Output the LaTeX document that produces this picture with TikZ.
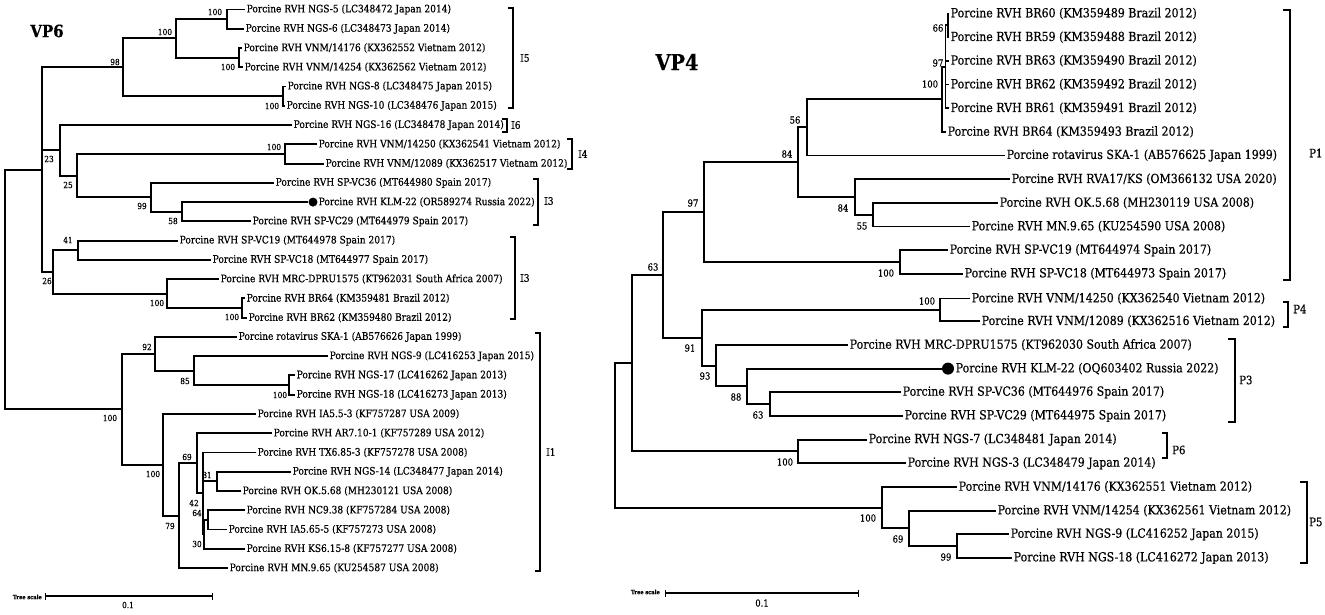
\documentclass[tikz,border=0pt]{standalone}
\usepackage{fontspec}
\setmainfont{DejaVu Serif}[FakeStretch=0.88, FakeBold=0.5]
\usetikzlibrary{arrows.meta}

\tikzset{
  leaf/.style={anchor=west, inner xsep=1.5pt, inner ysep=0pt, font=\fontsize{10.3}{11}\selectfont},
  bigleaf/.style={leaf, font=\fontsize{12.5}{13}\selectfont},
  boot/.style={inner sep=0pt, font=\fontsize{8.4}{9}\selectfont},
  bigboot/.style={inner sep=0pt, font=\fontsize{9.6}{10}\selectfont},
  branch/.style={line width=1.9pt},
  bracket/.style={line width=1.4pt},
  clade/.style={anchor=west, inner sep=0pt, font=\fontsize{10.3}{11}\selectfont},
  bigclade/.style={anchor=west, inner sep=0pt, font=\fontsize{11.5}{12}\selectfont},
  kdot/.style={circle, fill, inner sep=0pt, minimum size=#1},
  title/.style={inner sep=0pt, font=\bfseries\fontsize{#1}{#1}\selectfont},
  scalebar/.style={line width=1.4pt, {Bar[width=7pt]}-{Bar[width=7pt]}},
  scaletext/.style={anchor=east, inner sep=0pt, font=\bfseries\fontsize{5.8}{6}\selectfont}
}

\begin{document}
\begin{tikzpicture}[x=1pt, y=-1pt]
\useasboundingbox (0,0) rectangle (1325,614);

% ---------------- VP6 ----------------
\node [title=17] (vp6) at (47,31) {VP6};

\node [leaf] (l0) at (245,9.5) {Porcine RVH NGS-5 (LC348472 Japan 2014)};
\node [leaf] (l1) at (244,28.8) {Porcine RVH NGS-6 (LC348473 Japan 2014)};
\node [leaf] (l2) at (242,48.0) {Porcine RVH VNM/14176 (KX362552 Vietnam 2012)};
\node [leaf] (l3) at (243,67.3) {Porcine RVH VNM/14254 (KX362562 Vietnam 2012)};
\node [leaf] (l4) at (286,86.5) {Porcine RVH NGS-8 (LC348475 Japan 2015)};
\node [leaf] (l5) at (285,105.8) {Porcine RVH NGS-10 (LC348476 Japan 2015)};
\node [leaf] (l6) at (292,125.1) {Porcine RVH NGS-16 (LC348478 Japan 2014)};
\node [leaf] (l7) at (317,144.3) {Porcine RVH VNM/14250 (KX362541 Vietnam 2012)};
\node [leaf] (l8) at (324,163.6) {Porcine RVH VNM/12089 (KX362517 Vietnam 2012)};
\node [leaf] (l9) at (274,182.8) {Porcine RVH SP-VC36 (MT644980 Spain 2017)};
\node [kdot=9pt] (k6) at (313,202.1) {};
\node [leaf] (l10) at (317,202.1) {Porcine RVH KLM-22 (OR589274 Russia 2022)};
\node [leaf] (l11) at (251,221.4) {Porcine RVH SP-VC29 (MT644979 Spain 2017)};
\node [leaf] (l12) at (178,240.6) {Porcine RVH SP-VC19 (MT644978 Spain 2017)};
\node [leaf] (l13) at (211,259.9) {Porcine RVH SP-VC18 (MT644977 Spain 2017)};
\node [leaf] (l14) at (219,279.1) {Porcine RVH MRC-DPRU1575 (KT962031 South Africa 2007)};
\node [leaf] (l15) at (245,298.4) {Porcine RVH BR64 (KM359481 Brazil 2012)};
\node [leaf] (l16) at (247,317.7) {Porcine RVH BR62 (KM359480 Brazil 2012)};
\node [leaf] (l17) at (237,336.9) {Porcine rotavirus SKA-1 (AB576626 Japan 1999)};
\node [leaf] (l18) at (328,356.2) {Porcine RVH NGS-9 (LC416253 Japan 2015)};
\node [leaf] (l19) at (295,375.4) {Porcine RVH NGS-17 (LC416262 Japan 2013)};
\node [leaf] (l20) at (295,394.7) {Porcine RVH NGS-18 (LC416273 Japan 2013)};
\node [leaf] (l21) at (256,414.0) {Porcine RVH IA5.5-3 (KF757287 USA 2009)};
\node [leaf] (l22) at (272,433.2) {Porcine RVH AR7.10-1 (KF757289 USA 2012)};
\node [leaf] (l23) at (256,452.5) {Porcine RVH TX6.85-3 (KF757278 USA 2008)};
\node [leaf] (l24) at (291,471.7) {Porcine RVH NGS-14 (LC348477 Japan 2014)};
\node [leaf] (l25) at (241,491.0) {Porcine RVH OK.5.68 (MH230121 USA 2008)};
\node [leaf] (l26) at (245,510.3) {Porcine RVH NC9.38 (KF757284 USA 2008)};
\node [leaf] (l27) at (227,529.5) {Porcine RVH IA5.65-5 (KF757273 USA 2008)};
\node [leaf] (l28) at (245,548.8) {Porcine RVH KS6.15-8 (KF757277 USA 2008)};
\node [leaf] (l29) at (228,568.0) {Porcine RVH MN.9.65 (KU254587 USA 2008)};

% inner nodes, y = middle of the children
\coordinate (s100b) at (227,19.2);
\coordinate (s100d) at (239,57.6);
\coordinate (s100a) at (176,38.4);
\coordinate (s100c) at (283,96.2);
\coordinate (s98) at (123,67.3);
\coordinate (s100e) at (285,154.0);
\coordinate (s58) at (182,211.7);
\coordinate (s99) at (151,197.3);
\coordinate (s25) at (77,175.6);
\coordinate (s23) at (60,150.4);
\coordinate (s41) at (78,250.2);
\coordinate (s100f) at (242,308.0);
\coordinate (s100g) at (167,293.6);
\coordinate (s26) at (53,271.9);
\coordinate (sa) at (42,169.6);
\coordinate (s100h) at (289,385.0);
\coordinate (s85) at (194,370.6);
\coordinate (s92) at (155,353.8);
\coordinate (s81) at (217,481.4);
\coordinate (s64) at (208,519.9);
\coordinate (s30) at (204,534.3);
\coordinate (s42) at (203,493.4);
\coordinate (s69) at (197,463.3);
\coordinate (s79) at (179,515.7);
\coordinate (s100i) at (163,464.8);
\coordinate (s100j) at (122,409.3);
\coordinate (sroot) at (5,289.5);

\draw [branch]
  (s100b) |- (l0) (s100b) |- (l1)
  (s100d) |- (l2) (s100d) |- (l3)
  (s100a) |- (s100b) (s100a) |- (s100d)
  (s100c) |- (l4) (s100c) |- (l5)
  (s98) |- (s100a) (s98) |- (s100c)
  (s100e) |- (l7) (s100e) |- (l8)
  (s58) |- (k6) (s58) |- (l11)
  (s99) |- (l9) (s99) |- (s58)
  (s25) |- (s100e) (s25) |- (s99)
  (s23) |- (l6) (s23) |- (s25)
  (s41) |- (l12) (s41) |- (l13)
  (s100f) |- (l15) (s100f) |- (l16)
  (s100g) |- (l14) (s100g) |- (s100f)
  (s26) |- (s41) (s26) |- (s100g)
  (sa) |- (s98) (sa) |- (s23) (sa) |- (s26)
  (s100h) |- (l19) (s100h) |- (l20)
  (s85) |- (l18) (s85) |- (s100h)
  (s92) |- (l17) (s92) |- (s85)
  (s81) |- (l24) (s81) |- (l25)
  (s64) |- (l26) (s64) |- (l27)
  (s30) |- (s64) (s30) |- (l28)
  (s42) |- (l23) (s42) |- (s81) (s42) |- (s30)
  (s69) |- (l22) (s69) |- (s42)
  (s79) |- (s69) (s79) |- (l29)
  (s100i) |- (l21) (s100i) |- (s79)
  (s100j) |- (s92) (s100j) |- (s100i)
  (sroot) |- (sa) (sroot) |- (s100j);

% bootstrap values
\node [boot] (b1) at (215,12) {100};
\node [boot] (b2) at (165,32) {100};
\node [boot] (b3) at (115,62) {98};
\node [boot] (b4) at (228,67) {100};
\node [boot] (b5) at (272,106) {100};
\node [boot] (b6) at (49,159) {23};
\node [boot] (b7) at (274,147) {100};
\node [boot] (b8) at (68,185) {25};
\node [boot] (b9) at (142,206) {99};
\node [boot] (b10) at (173,221) {58};
\node [boot] (b11) at (68,240) {41};
\node [boot] (b12) at (47,281) {26};
\node [boot] (b13) at (157,303) {100};
\node [boot] (b14) at (232,317) {100};
\node [boot] (b15) at (147,347) {92};
\node [boot] (b16) at (185,381) {85};
\node [boot] (b17) at (280,395) {100};
\node [boot] (b18) at (110,418) {100};
\node [boot] (b19) at (187,457) {69};
\node [boot] (b20) at (153,474) {100};
\node [boot] (b21) at (207,475) {81};
\node [boot] (b22) at (194,503) {42};
\node [boot] (b23) at (197,513) {64};
\node [boot] (b24) at (170,526) {79};
\node [boot] (b25) at (197,544) {30};

% genotypes
\draw [bracket] (508,8) -| (513,108) -- (508,108);
\node [clade] (i5) at (520,58) {I5};
\draw [bracket] (502,119) -| (507,132) -- (502,132);
\node [clade] (i6) at (511,125) {I6};
\draw [bracket] (567,139) -| (572,169) -- (567,169);
\node [clade] (i4) at (578,154) {I4};
\draw [bracket] (533,179) -| (538,225) -- (533,225);
\node [clade] (i3a) at (544,201) {I3};
\draw [bracket] (510,237) -| (515,319) -- (510,319);
\node [clade] (i3b) at (520,278) {I3};
\draw [bracket] (535,333) -| (540,571) -- (535,571);
\node [clade] (i1) at (546,452) {I1};

% scale
\node [scaletext] (ts6) at (42,597) {Tree scale};
\coordinate (sb6a) at (45,596);
\coordinate (sb6b) at (213,596);
\draw [scalebar] (sb6a) -- (sb6b);
\node [boot] (u6) at (128,605) {0.1};

% ---------------- VP4 ----------------
\node [title=22] (vp4) at (677,62) {VP4};

\node [bigleaf] (r0) at (949,13.5) {Porcine RVH BR60 (KM359489 Brazil 2012)};
\node [bigleaf] (r1) at (949,37.2) {Porcine RVH BR59 (KM359488 Brazil 2012)};
\node [bigleaf] (r2) at (949,60.8) {Porcine RVH BR63 (KM359490 Brazil 2012)};
\node [bigleaf] (r3) at (949,84.5) {Porcine RVH BR62 (KM359492 Brazil 2012)};
\node [bigleaf] (r4) at (949,108.2) {Porcine RVH BR61 (KM359491 Brazil 2012)};
\node [bigleaf] (r5) at (946,131.9) {Porcine RVH BR64 (KM359493 Brazil 2012)};
\node [bigleaf] (r6) at (1005,155.5) {Porcine rotavirus SKA-1 (AB576625 Japan 1999)};
\node [bigleaf] (r7) at (1010,179.2) {Porcine RVH RVA17/KS (OM366132 USA 2020)};
\node [bigleaf] (r8) at (998,202.9) {Porcine RVH OK.5.68 (MH230119 USA 2008)};
\node [bigleaf] (r9) at (970,226.5) {Porcine RVH MN.9.65 (KU254590 USA 2008)};
\node [bigleaf] (r10) at (948,250.2) {Porcine RVH SP-VC19 (MT644974 Spain 2017)};
\node [bigleaf] (r11) at (963,273.9) {Porcine RVH SP-VC18 (MT644973 Spain 2017)};
\node [bigleaf] (r12) at (970,298.5) {Porcine RVH VNM/14250 (KX362540 Vietnam 2012)};
\node [bigleaf] (r13) at (980,321.2) {Porcine RVH VNM/12089 (KX362516 Vietnam 2012)};
\node [bigleaf] (r14) at (848,344.9) {Porcine RVH MRC-DPRU1575 (KT962030 South Africa 2007)};
\node [kdot=12pt] (k4) at (948,368.6) {};
\node [bigleaf] (r15) at (954,368.6) {Porcine RVH KLM-22 (OQ603402 Russia 2022)};
\node [bigleaf] (r16) at (901,392.2) {Porcine RVH SP-VC36 (MT644976 Spain 2017)};
\node [bigleaf] (r17) at (903,415.9) {Porcine RVH SP-VC29 (MT644975 Spain 2017)};
\node [bigleaf] (r18) at (867,439.6) {Porcine RVH NGS-7 (LC348481 Japan 2014)};
\node [bigleaf] (r19) at (906,463.2) {Porcine RVH NGS-3 (LC348479 Japan 2014)};
\node [bigleaf] (r20) at (957,486.9) {Porcine RVH VNM/14176 (KX362551 Vietnam 2012)};
\node [bigleaf] (r21) at (996,510.6) {Porcine RVH VNM/14254 (KX362561 Vietnam 2012)};
\node [bigleaf] (r22) at (1009,534.2) {Porcine RVH NGS-9 (LC416252 Japan 2015)};
\node [bigleaf] (r23) at (1012,557.9) {Porcine RVH NGS-18 (LC416272 Japan 2013)};

\coordinate (t66) at (948,25.4);
\coordinate (t97a) at (945.5,66.8);
\coordinate (t100a) at (942,99.4);
\coordinate (t56) at (807,127.4);
\coordinate (t55) at (873,214.7);
\coordinate (t84b) at (855,197.0);
\coordinate (t84a) at (798,162.2);
\coordinate (t100b) at (900,262.0);
\coordinate (t97) at (704,212.1);
\coordinate (t100c) at (940,309.9);
\coordinate (t63b) at (770,404.0);
\coordinate (t88) at (747,386.3);
\coordinate (t93) at (716,365.6);
\coordinate (t91) at (702,337.7);
\coordinate (t63) at (663,274.9);
\coordinate (t100d) at (798,451.4);
\coordinate (ta) at (632,363.1);
\coordinate (t99) at (957,546.0);
\coordinate (t69) at (909,528.3);
\coordinate (t100e) at (882,507.6);
\coordinate (troot) at (615,435.4);

\draw [branch]
  (t66) |- (r0) (t66) |- (r1)
  (t97a) |- (t66) (t97a) |- (r2) (t97a) |- (r3) (t97a) |- (r4)
  (t100a) |- (t97a) (t100a) |- (r5)
  (t56) |- (t100a) (t56) |- (r6)
  (t55) |- (r8) (t55) |- (r9)
  (t84b) |- (r7) (t84b) |- (t55)
  (t84a) |- (t56) (t84a) |- (t84b)
  (t100b) |- (r10) (t100b) |- (r11)
  (t97) |- (t84a) (t97) |- (t100b)
  (t100c) |- (r12) (t100c) |- (r13)
  (t63b) |- (r16) (t63b) |- (r17)
  (t88) |- (k4) (t88) |- (t63b)
  (t93) |- (r14) (t93) |- (t88)
  (t91) |- (t100c) (t91) |- (t93)
  (t63) |- (t97) (t63) |- (t91)
  (t100d) |- (r18) (t100d) |- (r19)
  (ta) |- (t63) (ta) |- (t100d)
  (t99) |- (r22) (t99) |- (r23)
  (t69) |- (r21) (t69) |- (t99)
  (t100e) |- (r20) (t100e) |- (t69)
  (troot) |- (ta) (troot) |- (t100e);

\node [bigboot] (c1) at (938,28) {66};
\node [bigboot] (c2) at (938,63) {97};
\node [bigboot] (c3) at (930,84) {100};
\node [bigboot] (c4) at (795,120) {56};
\node [bigboot] (c5) at (787,154) {84};
\node [bigboot] (c6) at (843,208) {84};
\node [bigboot] (c7) at (862,226) {55};
\node [bigboot] (c8) at (693,203) {97};
\node [bigboot] (c9) at (886,273) {100};
\node [bigboot] (c10) at (653,267) {63};
\node [bigboot] (c11) at (927,301) {100};
\node [bigboot] (c12) at (690,348) {91};
\node [bigboot] (c13) at (705,376) {93};
\node [bigboot] (c14) at (736,397) {88};
\node [bigboot] (c15) at (758,415) {63};
\node [bigboot] (c16) at (785,462) {100};
\node [bigboot] (c17) at (868,518) {100};
\node [bigboot] (c18) at (898,539) {69};
\node [bigboot] (c19) at (946,557) {99};

\draw [bracket] (1283,10) -| (1290,280) -- (1283,280);
\node [bigclade] (p1) at (1309,153) {P1};
\draw [bracket] (1283,302) -| (1288,327) -- (1283,327);
\node [bigclade] (p4) at (1293,309) {P4};
\draw [bracket] (1228,339) -| (1235,422) -- (1228,422);
\node [bigclade] (p3) at (1239,380) {P3};
\draw [bracket] (1162,433) -| (1167,458) -- (1162,458);
\node [bigclade] (p6) at (1172,450) {P6};
\draw [bracket] (1300,482) -| (1307,563) -- (1300,563);
\node [bigclade] (p5) at (1309,522) {P5};

\node [scaletext] (ts4) at (660,592) {Tree scale};
\coordinate (sb4a) at (665,593);
\coordinate (sb4b) at (859,593);
\draw [scalebar] (sb4a) -- (sb4b);
\node [bigboot] (u4) at (762,603) {0.1};

\end{tikzpicture}
\end{document}
